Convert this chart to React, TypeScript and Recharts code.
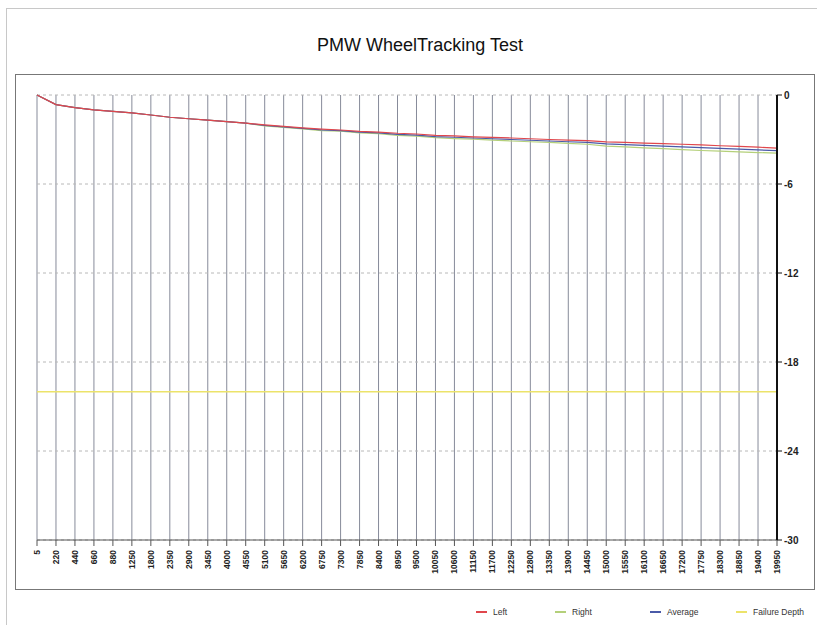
import React from 'react';
import { LineChart, Line, XAxis, YAxis, CartesianGrid } from 'recharts';

// wheel passes shown on the category axis
const passes = [
  '5', '220', '440', '660', '880', '1250', '1800', '2350', '2900', '3450',
  '4000', '4550', '5100', '5650', '6200', '6750', '7300', '7850', '8400', '8950',
  '9500', '10050', '10600', '11150', '11700', '12250', '12800', '13350', '13900', '14450',
  '15000', '15550', '16100', '16650', '17200', '17750', '18300', '18850', '19400', '19950',
];

// rut depth (mm)
const leftDepth = [
  0, -0.65, -0.85, -1.0, -1.1, -1.2, -1.35, -1.5, -1.6, -1.7,
  -1.8, -1.9, -2.02, -2.12, -2.22, -2.3, -2.36, -2.45, -2.5, -2.58,
  -2.63, -2.72, -2.76, -2.82, -2.86, -2.9, -2.95, -3.0, -3.04, -3.08,
  -3.16, -3.2, -3.24, -3.28, -3.32, -3.36, -3.42, -3.46, -3.52, -3.58,
];
const rightDepth = [
  0, -0.65, -0.85, -1.0, -1.1, -1.2, -1.35, -1.5, -1.6, -1.7,
  -1.8, -1.9, -2.08, -2.18, -2.28, -2.4, -2.44, -2.55, -2.6, -2.72,
  -2.77, -2.88, -2.94, -2.98, -3.04, -3.1, -3.15, -3.2, -3.26, -3.32,
  -3.44, -3.5, -3.56, -3.62, -3.68, -3.74, -3.78, -3.84, -3.88, -3.92,
];
const averageDepth = [
  0, -0.65, -0.85, -1.0, -1.1, -1.2, -1.35, -1.5, -1.6, -1.7,
  -1.8, -1.9, -2.05, -2.15, -2.25, -2.35, -2.4, -2.5, -2.55, -2.65,
  -2.7, -2.8, -2.85, -2.9, -2.95, -3.0, -3.05, -3.1, -3.15, -3.2,
  -3.3, -3.35, -3.4, -3.45, -3.5, -3.55, -3.6, -3.65, -3.7, -3.75,
];
const failureDepth = -20;

const yTicks = [0, -6, -12, -18, -24, -30];

const rows = passes.map((pass, i) => ({
  pass,
  left: leftDepth[i],
  right: rightDepth[i],
  average: averageDepth[i],
  failure: failureDepth,
}));

const legendItems = [
  { name: 'Left', color: '#e0474c', x: 476 },
  { name: 'Right', color: '#b4d07a', x: 555 },
  { name: 'Average', color: '#4a5aa8', x: 650 },
  { name: 'Failure Depth', color: '#ece36a', x: 736 },
];

const PassTick = (props: any) => {
  const { x, y, payload } = props;
  return (
    <text
      x={x + 3}
      y={y + 2}
      transform={`rotate(-90, ${x + 3}, ${y + 2})`}
      textAnchor="end"
      fontSize={8.5}
      fontWeight="bold"
      fill="#222"
    >
      {payload.value}
    </text>
  );
};

export default function App() {
  return (
    <div
      style={{
        position: 'absolute',
        left: 0,
        top: 0,
        width: 817,
        height: 625,
        background: '#fff',
        fontFamily: '"Liberation Sans", Arial, sans-serif',
        overflow: 'hidden',
      }}
    >
      {/* outer frame */}
      <div
        style={{
          position: 'absolute',
          left: 6,
          top: 8,
          width: 820,
          height: 640,
          border: '1px solid #c8c8c8',
        }}
      />
      <div
        style={{
          position: 'absolute',
          left: 0,
          top: 35,
          width: 840,
          textAlign: 'center',
          fontSize: 18,
          color: '#111',
        }}
      >
        PMW WheelTracking Test
      </div>

      {/* chart box */}
      <div
        style={{
          position: 'absolute',
          left: 15,
          top: 74,
          width: 800,
          height: 516,
          border: '1px solid #777',
          boxSizing: 'border-box',
        }}
      />
      <div style={{ position: 'absolute', left: 15, top: 74 }}>
        <LineChart
          width={800}
          height={516}
          data={rows}
          margin={{ top: 21, right: 0, left: 22, bottom: 5 }}
        >
          <CartesianGrid horizontal={false} stroke="#878b9a" strokeWidth={1} />
          <CartesianGrid vertical={false} stroke="#b8b8b8" strokeDasharray="3 3" />
          <XAxis
            dataKey="pass"
            interval={0}
            height={45}
            tick={<PassTick />}
            tickSize={6}
            axisLine={{ stroke: '#555' }}
            tickLine={{ stroke: '#555' }}
          />
          <YAxis
            orientation="right"
            width={38}
            domain={[-30, 0]}
            ticks={yTicks}
            interval={0}
            tickSize={5}
            axisLine={{ stroke: '#111', strokeWidth: 2 }}
            tickLine={{ stroke: '#111' }}
            tick={{ fontSize: 10, fontWeight: 'bold', fill: '#222' }}
          />
          <Line dataKey="failure" stroke="#ece36a" strokeWidth={1.5} dot={false} isAnimationActive={false} />
          <Line dataKey="right" stroke="#b4d07a" strokeWidth={1.2} dot={false} isAnimationActive={false} />
          <Line dataKey="average" stroke="#4a5aa8" strokeWidth={1.2} dot={false} isAnimationActive={false} />
          <Line dataKey="left" stroke="#e0474c" strokeWidth={1.2} dot={false} isAnimationActive={false} />
        </LineChart>
      </div>

      {/* legend */}
      {legendItems.map((item) => (
        <div
          key={item.name}
          style={{
            position: 'absolute',
            left: item.x,
            top: 607,
            display: 'flex',
            alignItems: 'center',
            fontSize: 8.5,
            color: '#333',
          }}
        >
          <span
            style={{
              display: 'inline-block',
              width: 11,
              height: 0,
              borderTop: `2px solid ${item.color}`,
              marginRight: 6,
            }}
          />
          {item.name}
        </div>
      ))}
    </div>
  );
}
